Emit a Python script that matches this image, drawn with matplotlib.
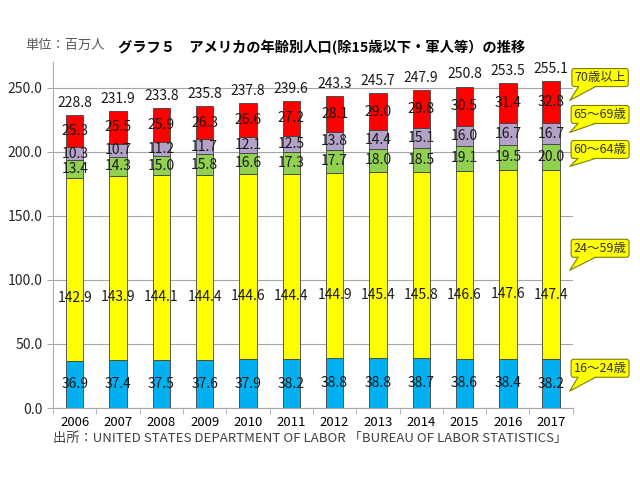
import matplotlib
matplotlib.use('Agg')
import matplotlib.pyplot as plt
from matplotlib.patches import Polygon
import numpy as np

plt.rcParams['font.family'] = ['Noto Sans CJK JP', 'DejaVu Sans']

years = ['2006', '2007', '2008', '2009', '2010', '2011',
         '2012', '2013', '2014', '2015', '2016', '2017']
age_16_24 = [36.9, 37.4, 37.5, 37.6, 37.9, 38.2, 38.8, 38.8, 38.7, 38.6, 38.4, 38.2]
age_24_59 = [142.9, 143.9, 144.1, 144.4, 144.6, 144.4, 144.9, 145.4, 145.8, 146.6, 147.6, 147.4]
age_60_64 = [13.4, 14.3, 15.0, 15.8, 16.6, 17.3, 17.7, 18.0, 18.5, 19.1, 19.5, 20.0]
age_65_69 = [10.3, 10.7, 11.2, 11.7, 12.1, 12.5, 13.8, 14.4, 15.1, 16.0, 16.7, 16.7]
age_70 = [25.3, 25.5, 25.9, 26.3, 26.6, 27.2, 28.1, 29.0, 29.8, 30.5, 31.4, 32.8]
totals = [228.8, 231.9, 233.8, 235.8, 237.8, 239.6, 243.3, 245.7, 247.9, 250.8, 253.5, 255.1]

series = [
    ('16～24歳', age_16_24, '#00B0F0'),
    ('24～59歳', age_24_59, '#FFFF00'),
    ('60～64歳', age_60_64, '#92D050'),
    ('65～69歳', age_65_69, '#B3A2C7'),
    ('70歳以上', age_70, '#FF0000'),
]

fig = plt.figure(figsize=(6.4, 4.8), dpi=100)
ax = fig.add_axes([0.083, 0.15, 0.812, 0.721])

x = np.arange(len(years))
bottom = np.zeros(len(years))
for i, (name, vals, col) in enumerate(series):
    vals = np.array(vals)
    ax.bar(x, vals, 0.4, bottom=bottom, color=col, edgecolor='#404040',
           linewidth=0.6, zorder=3)
    # label positions (the 24-59 labels sit low in the segment)
    frac = 0.34 if i == 1 else 0.5
    for xi, b, v in zip(x, bottom, vals):
        ax.text(xi, b + v * frac, f'{v:.1f}', ha='center', va='center',
                fontsize=10, color='#1a1a1a', zorder=4)
    bottom = bottom + vals

for xi, t in zip(x, totals):
    ax.text(xi, t + 4, f'{t:.1f}', ha='center', va='bottom', fontsize=10,
            color='#1a1a1a', zorder=4)

ax.set_xlim(-0.5, 11.5)
ax.set_ylim(0, 270)
ax.set_yticks(np.arange(0, 251, 50))
ax.set_yticklabels([f'{v:.1f}' for v in np.arange(0, 251, 50)], fontsize=10)
ax.set_xticks(x)
ax.set_xticklabels(years, fontsize=9.5)
ax.set_xticks(np.arange(-0.5, 12, 1), minor=True)
ax.tick_params(axis='x', which='major', length=0, pad=6)
ax.tick_params(axis='x', which='minor', length=4, color='#aaaaaa')
ax.tick_params(axis='y', length=4, color='#aaaaaa', labelcolor='#262626')
ax.grid(axis='y', color='#a6a6a6', linewidth=0.8, zorder=0)
for s in ['top', 'right']:
    ax.spines[s].set_visible(False)
ax.spines['left'].set_color('#aaaaaa')
ax.spines['bottom'].set_color('#aaaaaa')

# callouts: box text + triangular tail to the last bar
callouts = [
    ('70歳以上', 257.8, 240.0),
    ('65～69歳', 229.0, 215.0),
    ('60～64歳', 201.7, 188.5),
    ('24～59歳', 124.6, 107.5),
    ('16～24歳', 31.0, 13.2),
]
boxes = []
for label, ty, py in callouts:
    t = ax.text(12.13, ty, label, ha='center', va='center', fontsize=9,
                color='#333333', clip_on=False, zorder=5,
                bbox=dict(boxstyle='round,pad=0.2', fc='#FFFF00', ec='#7f7f00', lw=0.8))
    boxes.append((t, py))

fig.canvas.draw()
r = fig.canvas.get_renderer()
inv = ax.transData.inverted()
for t, py in boxes:
    bb = t.get_bbox_patch().get_window_extent(r)
    (x0, y0), (x1, y1) = inv.transform([[bb.x0, bb.y0], [bb.x1, bb.y1]])
    w = x1 - x0
    ya = y0 + 0.6
    ax_ = x0 + 0.12 * w
    bx_ = x0 + 0.42 * w
    tip = (11.43, py)
    ax.add_patch(Polygon([(ax_, y0 + 2.5), (bx_, y0 + 2.5), (bx_, ya), tip, (ax_, ya)],
                         closed=True, fc='#FFFF00', ec='none', clip_on=False, zorder=6))
    ax.plot([ax_, tip[0], bx_], [y0, tip[1], y0], color='#7f7f00', lw=0.8,
            clip_on=False, zorder=6.5)

fig.text(0.04, 0.905, '単位：百万人', fontsize=9.5, color='#595959', va='center')
fig.text(0.502, 0.9, 'グラフ５　アメリカの年齢別人口(除15歳以下・軍人等）の推移',
         fontsize=10.3, fontweight='bold', ha='center', va='center')
fig.text(0.083, 0.087, '出所：UNITED STATES DEPARTMENT OF LABOR 「BUREAU OF LABOR STATISTICS」',
         fontsize=9.5, color='#404040', va='center')

fig.savefig('out.png', dpi=100)
